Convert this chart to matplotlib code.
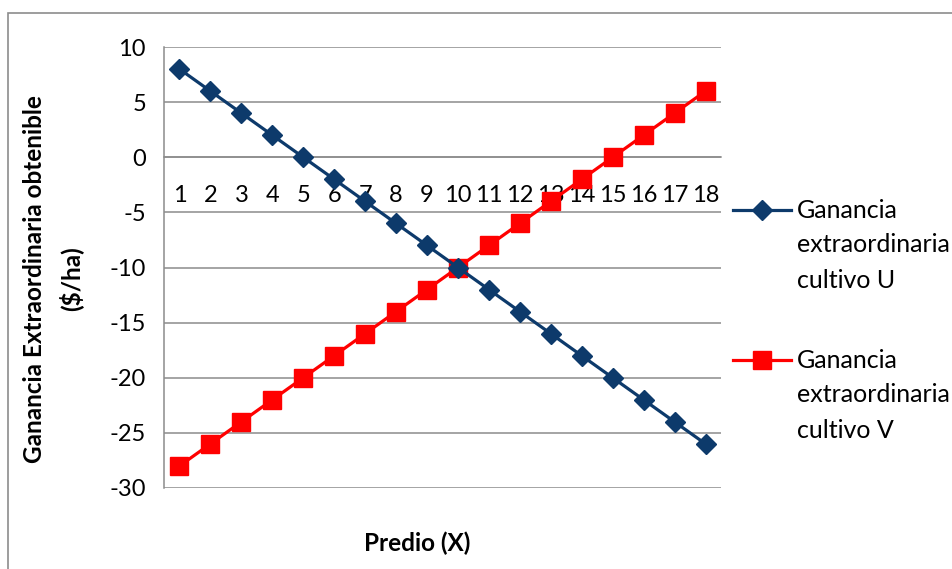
import matplotlib
matplotlib.use("Agg")
import matplotlib.pyplot as plt
from matplotlib.lines import Line2D
from matplotlib.patches import Rectangle

# Data
predios = [1, 2, 3, 4, 5, 6, 7, 8, 9, 10, 11, 12, 13, 14, 15, 16, 17, 18]
cultivo_u = [8, 6, 4, 2, 0, -2, -4, -6, -8, -10, -12, -14, -16, -18, -20, -22, -24, -26]
cultivo_v = [-28, -26, -24, -22, -20, -18, -16, -14, -12, -10, -8, -6, -4, -2, 0, 2, 4, 6]
series_labels = ["Ganancia\nextraordinaria\ncultivo U", "Ganancia\nextraordinaria\ncultivo V"]
y_ticks = [10, 5, 0, -5, -10, -15, -20, -25, -30]

FONT = ["Lato", "DejaVu Sans"]
plt.rcParams["font.family"] = FONT

W, H = 953, 569
fig = plt.figure(figsize=(W / 100, H / 100), dpi=100)

def fx(px):
    return px / W

def fy(py):
    return 1 - py / H

# outer chart frame
fig.add_artist(Rectangle((fx(8), fy(700)), fx(1000), fy(13) - fy(700),
                         transform=fig.transFigure, fill=False,
                         edgecolor="#8c8c8c", linewidth=1.2))

ax = fig.add_axes([fx(164), fy(488), fx(721) - fx(164), fy(47) - fy(488)])

blue = "#0d3a6b"
red = "#ff0000"
LW = 2.3

ax.plot(predios, cultivo_u, color=blue, linewidth=LW, marker="D",
        markersize=10.5, zorder=4, clip_on=False)
ax.plot(predios, cultivo_v, color=red, linewidth=LW, marker="s",
        markersize=13.5, zorder=3, clip_on=False)

ax.set_xlim(0.5, 18.5)
ax.set_ylim(-30, 10)
ax.set_yticks(y_ticks)
ax.set_yticklabels([str(t) for t in y_ticks], fontsize=17)
ax.yaxis.grid(True, color="#8c8c8c", linewidth=1.1)
ax.set_axisbelow(True)

for s in ["top", "right"]:
    ax.spines[s].set_visible(False)
ax.spines["left"].set_color("#8c8c8c")
ax.spines["left"].set_linewidth(1.1)
ax.spines["bottom"].set_position(("data", 0))
ax.spines["bottom"].set_color("#8c8c8c")
ax.spines["bottom"].set_linewidth(1.1)

ax.set_xticks(predios)
ax.set_xticklabels([str(p) for p in predios], fontsize=17)
ax.tick_params(axis="x", length=0, pad=20)
ax.tick_params(axis="y", length=0, pad=13)

fig.text(fx(417), fy(543), "Predio (X)", fontsize=17.5, fontweight="bold",
         ha="center", va="center")
fig.text(fx(53), fy(279), "Ganancia Extraordinaria obtenible\n($/ha)",
         fontsize=17.5, fontweight="bold", ha="center", va="center",
         rotation=90, linespacing=1.55)

# legend
legend_rows = [(210, blue, "D", 10.5), (360, red, "s", 13.5)]
for (ypx, col, mk, ms), label in zip(legend_rows, series_labels):
    fig.add_artist(Line2D([fx(733), fx(762), fx(791)], [fy(ypx)] * 3,
                          transform=fig.transFigure, color=col, linewidth=LW,
                          marker=mk, markersize=ms, markevery=[1]))
    for i, line in enumerate(label.split("\n")):
        fig.text(fx(797), fy(ypx + i * 35), line, fontsize=18,
                 ha="left", va="center")

fig.savefig("out.png", dpi=100)
